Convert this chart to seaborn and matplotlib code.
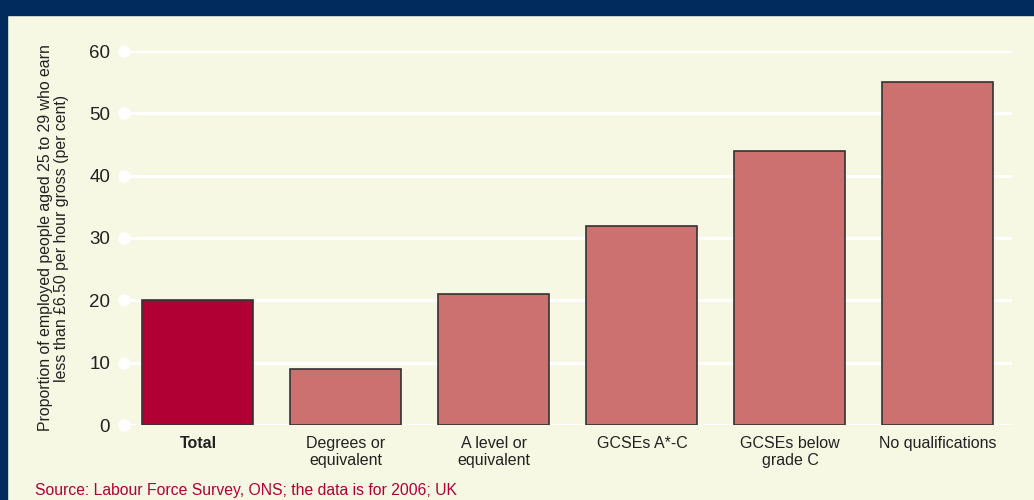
import pandas as pd
import matplotlib.pyplot as plt
import matplotlib.transforms as mtransforms
from matplotlib.patches import Rectangle
import seaborn as sns

# Data
categories = ["Total", "Degrees or\nequivalent", "A level or\nequivalent",
              "GCSEs A*-C", "GCSEs below\ngrade C", "No qualifications"]
values = [20, 9, 21, 32, 44, 55]
yticks = [0, 10, 20, 30, 40, 50, 60]

df = pd.DataFrame({"category": categories, "value": values})

bg = "#f7f8e3"
navy = "#002b5c"
total_col = "#b00034"
bar_col = "#cd7070"

sns.set_style("white")
plt.rcParams["font.family"] = ["Liberation Sans", "DejaVu Sans"]

fig = plt.figure(figsize=(10.34, 5.0), dpi=100, facecolor=bg)
ax = fig.add_axes([0.1199, 0.15, 0.8588, 0.748])
ax.set_facecolor(bg)

palette = [total_col] + [bar_col] * (len(categories) - 1)
sns.barplot(data=df, x="category", y="value", hue="category", palette=palette,
            width=0.75, saturation=1, edgecolor="#333333", linewidth=1.2,
            legend=False, ax=ax, zorder=3)

ax.set_xlim(-0.5, len(categories) - 0.5)
ax.set_ylim(0, 60)
ax.set_yticks(yticks)
ax.set_yticklabels([str(t) for t in yticks], fontsize=13.5, color="#222222")
ax.tick_params(axis="y", length=0, pad=10)
ax.tick_params(axis="x", length=0, pad=8)
ax.set_xticks(range(len(categories)))
ax.set_xticklabels(categories, fontsize=11.5, color="#222222", linespacing=1.15)
ax.get_xticklabels()[0].set_fontweight("bold")
ax.set_xlabel("")
ax.set_ylabel("Proportion of employed people aged 25 to 29 who earn\n"
              "less than £6.50 per hour gross (per cent)",
              fontsize=11.4, color="#222222", linespacing=1.05)
ax.yaxis.set_label_coords(-0.062, 0.5)

# white gridlines with round dots at the left end
for t in yticks:
    ax.axhline(t, color="white", linewidth=2.2, zorder=1)
trans = mtransforms.blended_transform_factory(ax.transAxes, ax.transData)
ax.scatter([0] * len(yticks), yticks, s=80, color="white", transform=trans,
           clip_on=False, zorder=2, linewidths=0)

for s in ax.spines.values():
    s.set_visible(False)

# navy frame (top band and left edge)
fig.patches.append(Rectangle((0, 1 - 15 / 500), 1, 15 / 500, transform=fig.transFigure,
                             color=navy, zorder=0))
fig.patches.append(Rectangle((0, 0), 7 / 1034, 1, transform=fig.transFigure,
                             color=navy, zorder=0))

fig.text(35 / 1034, 1 - 490 / 500, "Source: Labour Force Survey, ONS; the data is for 2006; UK",
         fontsize=11.3, color=total_col, va="center", ha="left")

fig.savefig("out.png", dpi=100, facecolor=bg)
